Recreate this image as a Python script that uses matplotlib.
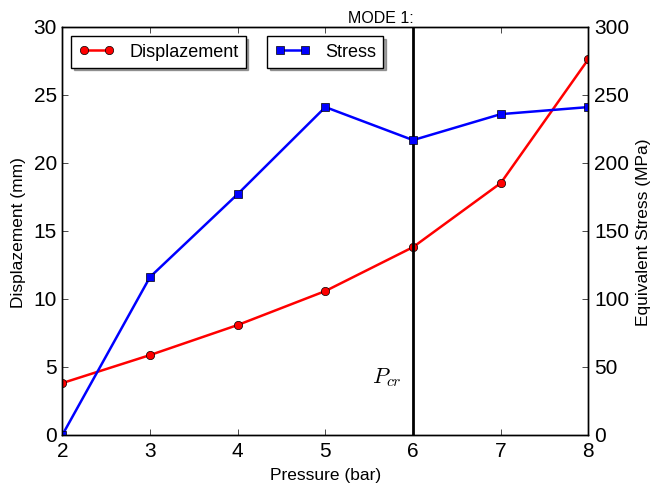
import matplotlib
matplotlib.use("Agg")
import matplotlib.pyplot as plt

plt.style.use("classic")
plt.rcParams["font.family"] = ["Liberation Sans", "DejaVu Sans"]
plt.rcParams["mathtext.fontset"] = "cm"

pressure = [2, 3, 4, 5, 6, 7, 8]
displacement = [3.82, 5.88, 8.09, 10.59, 13.82, 18.53, 27.65]
stress = [0.0, 116.2, 177.2, 241.2, 216.9, 236.0, 241.2]
p_cr = 6

fig, ax = plt.subplots(figsize=(6.56, 4.85), dpi=100)
fig.patch.set_facecolor("white")
fig.subplots_adjust(left=0.095, right=0.897, top=0.942, bottom=0.101)

l1, = ax.plot(pressure, displacement, "r-o", lw=1.8, ms=6, label="Displazement")
ax.set_ylim(0, 30)
ax.set_xlim(2, 8)
ax.set_xlabel("Pressure (bar)", fontsize=12.5)
ax.set_ylabel("Displazement (mm)", fontsize=12.5)
ax.tick_params(labelsize=15)
ax.axvline(p_cr, color="k", lw=2)
ax.text(5.7, 4.3, r"$P_{cr}$", fontsize=16, ha="center", va="center")
ax.set_title("MODE 1:", fontsize=11.5, x=0.605, y=0.995)

ax2 = ax.twinx()
l2, = ax2.plot(pressure, stress, "b-s", lw=1.8, ms=6, label="Stress")
ax2.set_ylim(0, 300)
ax2.set_xlim(2, 8)
ax2.set_ylabel("Equivalent Stress (MPa)", fontsize=12.5)
ax2.tick_params(labelsize=15)

ax.legend(handles=[l1], loc="upper left", shadow=True, fancybox=False,
          numpoints=2, fontsize=13)
ax2.legend(handles=[l2], loc="upper center", shadow=True, fancybox=False,
           numpoints=2, fontsize=13)

fig.savefig("out.png", dpi=100, facecolor="white")
